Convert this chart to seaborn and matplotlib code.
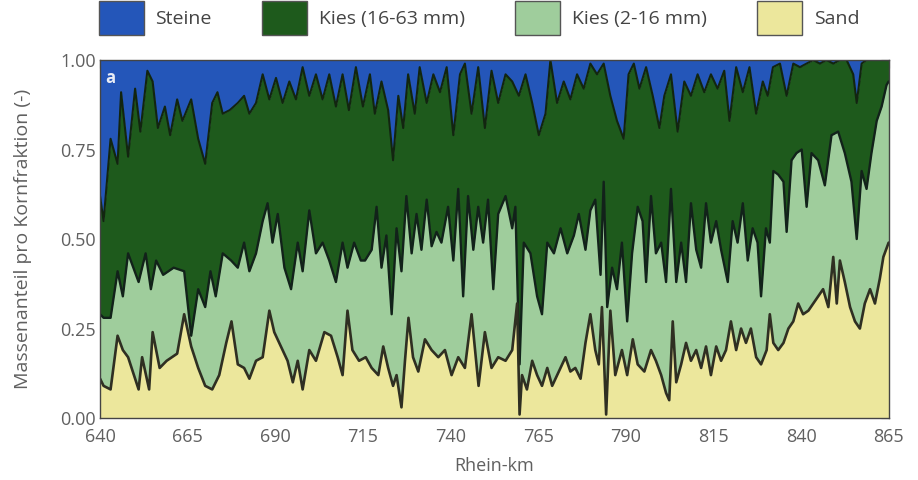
import numpy as np
import matplotlib
matplotlib.use("Agg")
import matplotlib.pyplot as plt
import seaborn as sns
from matplotlib.patches import Patch
from matplotlib.ticker import MultipleLocator

# cumulative boundaries (Rhein-km, mass fraction)
km_sand = [640, 641, 643, 645, 646.5, 648, 651, 652, 654, 655, 657, 659, 662, 664, 666, 668, 670, 672, 674,
           676, 677.5, 679.3, 681.1, 682.6, 684.5, 686.4, 688.3, 689.7, 691.6, 693.5, 695, 696.4, 697.8,
           699.7, 701.6, 704, 705.9, 707.8, 709.2, 710.6, 712, 713.9, 715.8, 717.5, 719.4, 720.8, 722.2,
           723.6, 724.6, 726, 727, 728, 729.3, 730.8, 732.7, 734.6, 736.5, 738.4, 740.3, 742.2, 744.1, 746,
           748, 749.8, 751.7, 753.6, 755.7, 757.6, 759, 759.7, 760.4, 761.8, 763.3, 764.7, 766.1, 767.6,
           769, 770.9, 772.8, 774.2, 775.6, 777.1, 778.5, 779.9, 781.3, 782.3, 783.2, 784.4, 785.6, 787,
           788.9, 790.4, 792, 793.4, 795.3, 797.2, 798.6, 800.1, 801.5, 802.4, 803.4, 804.4, 805.8, 807.2,
           808.6, 810.1, 811.5, 812.9, 814.3, 815.8, 817.2, 818.6, 820, 821.5, 822.9, 824.3, 825.7, 827.2,
           828.6, 830.2, 831.1, 832.1, 833.5, 835, 836.4, 837.8, 839.2, 840.6, 842.1, 843.5, 844.9, 846.3,
           847.8, 849.2, 850.2, 851.1, 852.5, 854, 855.4, 856.8, 858.2, 859.7, 861.1, 862.5, 863.5, 865]
sand_top = [0.11, 0.09, 0.08, 0.23, 0.19, 0.17, 0.08, 0.17, 0.08, 0.24, 0.14, 0.16, 0.18, 0.29, 0.20, 0.14,
            0.09, 0.08, 0.12, 0.21, 0.27, 0.15, 0.14, 0.11, 0.16, 0.17, 0.30, 0.24, 0.20, 0.16, 0.10, 0.16,
            0.08, 0.19, 0.16, 0.24, 0.23, 0.17, 0.12, 0.30, 0.19, 0.16, 0.17, 0.14, 0.12, 0.20, 0.14, 0.09,
            0.12, 0.03, 0.16, 0.28, 0.17, 0.13, 0.22, 0.19, 0.17, 0.19, 0.12, 0.17, 0.14, 0.29, 0.09, 0.24,
            0.14, 0.17, 0.16, 0.19, 0.32, 0.01, 0.12, 0.08, 0.16, 0.12, 0.09, 0.14, 0.09, 0.13, 0.17, 0.13,
            0.14, 0.11, 0.21, 0.29, 0.19, 0.15, 0.31, 0.01, 0.30, 0.12, 0.19, 0.12, 0.22, 0.15, 0.13, 0.19,
            0.16, 0.12, 0.07, 0.05, 0.27, 0.10, 0.15, 0.21, 0.16, 0.19, 0.14, 0.20, 0.12, 0.20, 0.16, 0.19,
            0.27, 0.19, 0.25, 0.21, 0.25, 0.17, 0.15, 0.19, 0.29, 0.21, 0.19, 0.21, 0.25, 0.27, 0.32, 0.29,
            0.30, 0.32, 0.34, 0.36, 0.31, 0.45, 0.32, 0.44, 0.38, 0.31, 0.27, 0.25, 0.32, 0.36, 0.32, 0.39,
            0.45, 0.49]

km_fine = [640, 641, 643, 645, 646.5, 648, 651, 653, 654.5, 656, 658, 661, 664, 666, 668, 670, 671.5, 673,
           675, 677.4, 679.3, 681.1, 682.6, 684.5, 686.4, 687.8, 689.2, 690.7, 692.6, 694.5, 696.4, 697.8,
           699.7, 701.6, 703.5, 705.4, 707.3, 709.2, 710.6, 712.5, 714.4, 715.6, 717.5, 718.9, 720.3, 721.7,
           723.2, 724.6, 726, 727.4, 728.9, 730.3, 731.7, 733.2, 734.6, 736, 737.4, 739.3, 740.8, 742.2,
           743.6, 745, 746.5, 747.9, 749.3, 750.7, 752.2, 753.6, 755.7, 757.6, 758.5, 759.7, 760.9, 762.8,
           764.7, 766.1, 767.6, 769.5, 771.4, 773.3, 775.2, 776.6, 778.5, 779.9, 781.3, 782.8, 783.7, 784.7,
           786.1, 787.5, 788.9, 790.4, 791.8, 793.4, 794.8, 795.8, 797.2, 798.6, 800.1, 801.5, 802.9, 804.4,
           805.8, 807.2, 808.6, 810.1, 811.5, 812.9, 814.3, 815.8, 817.2, 819.1, 820.5, 821.9, 823.4, 824.8,
           826.2, 827.6, 828.6, 830, 831.1, 832.1, 833.5, 835, 835.9, 837.3, 838.7, 840.2, 841.6, 843,
           844.9, 846.8, 848.7, 850.6, 852.5, 854.4, 855.9, 857.3, 858.7, 860.1, 861.6, 863, 864.4, 865]
fine_top = [0.29, 0.28, 0.28, 0.41, 0.34, 0.46, 0.38, 0.46, 0.36, 0.44, 0.40, 0.42, 0.41, 0.23, 0.36, 0.31,
            0.41, 0.34, 0.46, 0.44, 0.42, 0.49, 0.41, 0.46, 0.55, 0.60, 0.49, 0.57, 0.42, 0.36, 0.49, 0.41,
            0.58, 0.46, 0.49, 0.44, 0.38, 0.49, 0.42, 0.49, 0.44, 0.44, 0.47, 0.59, 0.42, 0.51, 0.29, 0.53,
            0.41, 0.62, 0.46, 0.57, 0.47, 0.61, 0.48, 0.52, 0.49, 0.59, 0.44, 0.64, 0.34, 0.62, 0.47, 0.59,
            0.49, 0.61, 0.36, 0.57, 0.62, 0.53, 0.59, 0.15, 0.49, 0.46, 0.34, 0.29, 0.49, 0.46, 0.53, 0.46,
            0.51, 0.57, 0.47, 0.58, 0.61, 0.40, 0.66, 0.31, 0.42, 0.36, 0.49, 0.27, 0.46, 0.59, 0.55, 0.38,
            0.62, 0.46, 0.49, 0.38, 0.64, 0.38, 0.49, 0.38, 0.60, 0.47, 0.42, 0.60, 0.49, 0.55, 0.47, 0.38,
            0.55, 0.49, 0.60, 0.44, 0.53, 0.49, 0.34, 0.53, 0.49, 0.69, 0.68, 0.66, 0.52, 0.72, 0.74, 0.75,
            0.59, 0.74, 0.72, 0.65, 0.79, 0.80, 0.74, 0.66, 0.50, 0.69, 0.64, 0.74, 0.83, 0.87, 0.93, 0.94]

km_coarse = [640, 641, 643, 645, 646, 648, 650, 651.5, 653.5, 655, 656.5, 658.5, 660, 662, 663.5, 666, 668,
             670, 672, 673.5, 675, 677, 679.3, 681.1, 682.6, 684.5, 686.4, 688.3, 690.2, 692.1, 694, 695.9,
             697.8, 699.7, 701.6, 703.5, 705.4, 707.3, 709.2, 711, 713, 715, 717, 718.4, 720.3, 722.2, 723.6,
             725.1, 726.5, 727.9, 729.8, 731.2, 733.2, 735.1, 737, 738.9, 740.8, 742.7, 744.1, 746, 747.9,
             749.8, 751.7, 753.6, 755.7, 757.6, 759.5, 761.4, 763.3, 765.2, 767.1, 768.5, 770.4, 772.3, 774.2,
             776.1, 778, 779.9, 781.8, 783.7, 785.6, 787.5, 789.4, 790.8, 792.3, 793.9, 795.8, 797.7, 799.6,
             801, 802.9, 804.8, 806.7, 808.6, 810.5, 812.4, 814.3, 816.2, 818.1, 819.6, 821.5, 823.4, 825.3,
             827.2, 829.1, 830.5, 832, 834, 835.9, 837.8, 839.7, 841.6, 843.5, 845.4, 847.3, 849.2, 851.1,
             853, 854.9, 855.9, 857.3, 858.7, 865]
coarse_top = [0.62, 0.55, 0.78, 0.71, 0.91, 0.73, 0.92, 0.80, 0.97, 0.94, 0.81, 0.87, 0.79, 0.89, 0.83, 0.89,
              0.78, 0.71, 0.88, 0.91, 0.85, 0.86, 0.88, 0.90, 0.85, 0.88, 0.96, 0.89, 0.95, 0.88, 0.94, 0.89,
              0.98, 0.90, 0.96, 0.89, 0.96, 0.87, 0.96, 0.86, 0.98, 0.87, 0.96, 0.85, 0.94, 0.86, 0.72, 0.90,
              0.81, 0.96, 0.85, 0.98, 0.88, 0.96, 0.91, 0.98, 0.79, 0.96, 0.99, 0.85, 0.98, 0.81, 0.97, 0.88,
              0.96, 0.94, 0.90, 0.96, 0.88, 0.79, 0.85, 1.00, 0.88, 0.94, 0.89, 0.96, 0.92, 0.99, 0.96, 0.99,
              0.90, 0.83, 0.78, 0.96, 0.99, 0.92, 0.98, 0.90, 0.81, 0.90, 0.96, 0.80, 0.94, 0.90, 0.96, 0.91,
              0.96, 0.92, 0.97, 0.83, 0.98, 0.91, 0.98, 0.85, 0.94, 0.90, 0.98, 0.99, 0.90, 0.99, 0.98, 0.99,
              1.00, 0.99, 1.00, 0.99, 1.00, 1.00, 0.96, 0.88, 0.99, 1.00, 1.00]

classes = ["Steine", "Kies (16-63 mm)", "Kies (2-16 mm)", "Sand"]
colors = ["#2456b9", "#1e5a1c", "#9fcd9c", "#ece79c"]

sns.set_style("white")
plt.rcParams["font.family"] = ["Open Sans", "DejaVu Sans"]

fig = plt.figure(figsize=(9.18, 4.8), dpi=100)
ax = fig.add_axes([0.109, 0.129, 0.859, 0.746])

# stacked look: each cumulative boundary painted over the one above it
ax.fill_between(km_coarse, coarse_top, 1, color=colors[0], lw=0)
ax.fill_between(km_coarse, 0, coarse_top, color=colors[1], lw=0)
ax.fill_between(km_fine, 0, fine_top, color=colors[2], lw=0)
ax.fill_between(km_sand, 0, sand_top, color=colors[3], lw=0)

sns.lineplot(x=km_coarse, y=coarse_top, ax=ax, color="#122510", lw=1.5, sort=False)
sns.lineplot(x=km_fine, y=fine_top, ax=ax, color="#12221a", lw=1.7, sort=False)
sns.lineplot(x=km_sand, y=sand_top, ax=ax, color="#2f2f22", lw=1.9, sort=False)

ax.set_xlim(640, 865)
ax.set_ylim(0, 1)
ax.set_xticks(np.arange(640, 866, 25))
ax.set_yticks([0, 0.25, 0.5, 0.75, 1.0])
ax.set_yticklabels(["0.00", "0.25", "0.50", "0.75", "1.00"])
ax.xaxis.set_minor_locator(MultipleLocator(5))
ax.yaxis.set_minor_locator(MultipleLocator(0.0625))
ax.tick_params(which="both", direction="in", top=True, right=True, color="#333333",
               labelsize=13, labelcolor="#606060")
ax.tick_params(which="major", length=6)
ax.tick_params(which="minor", length=3)
ax.tick_params(axis="x", pad=7)
ax.tick_params(axis="y", pad=3)
for s in ax.spines.values():
    s.set_color("#444444")
    s.set_linewidth(1.0)

ax.set_xlabel("Rhein-km", fontsize=13, color="#606060", labelpad=8)
ax.set_ylabel("Massenanteil pro Kornfraktion (-)", fontsize=14, color="#606060", labelpad=20)
ax.text(0.006, 0.975, "a", transform=ax.transAxes, fontsize=12, color="#e8ecf5",
        ha="left", va="top", fontweight="bold")

handles = [Patch(facecolor=c, edgecolor="#555555", lw=1) for c in colors]
fig.legend(handles, classes, loc="upper left", bbox_to_anchor=(0.108, 0.997), ncol=4,
           frameon=False, fontsize=14, labelcolor="#444444", handlelength=2.3, handleheight=2.3,
           handletextpad=0.6, columnspacing=2.6, borderpad=0, borderaxespad=0)

fig.savefig("out.png", dpi=100)
